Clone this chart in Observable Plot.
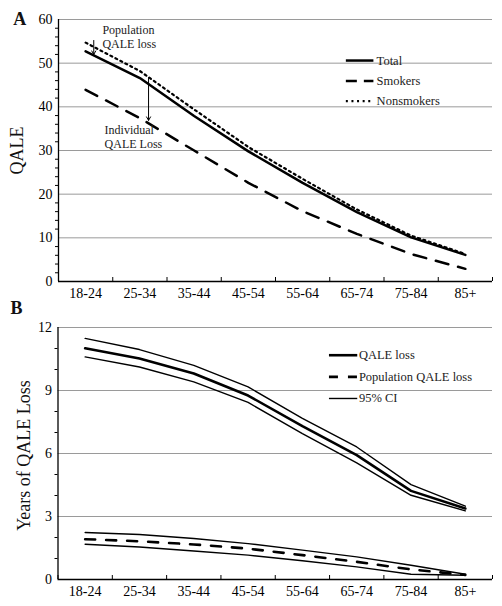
<!DOCTYPE html>
<html><head><meta charset="utf-8">
<script src="https://cdn.jsdelivr.net/npm/d3@7"></script>
<script src="https://cdn.jsdelivr.net/npm/@observablehq/plot@0.6"></script>
<style>body{margin:0;background:#fff;font-family:"Liberation Serif",serif} #chart svg{display:block;overflow:visible}</style>
</head><body><div id="chart"></div>
<script>
// ---- data ----
const ageGroups = ["18-24","25-34","35-44","45-54","55-64","65-74","75-84","85+"];
// Panel A: QALE
const totalQALE      = [52.7, 46.6, 37.9, 29.8, 22.6, 15.9, 10.1, 6.1];
const smokersQALE    = [43.9, 37.4, 30.0, 22.6, 16.1, 10.9, 6.3, 2.9];
const nonsmokersQALE = [54.7, 48.2, 39.4, 30.8, 23.5, 16.5, 10.5, 6.3];
// Panel B: years of QALE loss
const qaleLoss       = [11.01, 10.52, 9.81, 8.76, 7.30, 5.92, 4.22, 3.38];
const qaleLossUpper  = [11.48, 10.95, 10.20, 9.17, 7.67, 6.31, 4.52, 3.49];
const qaleLossLower  = [10.60, 10.12, 9.41, 8.43, 6.95, 5.55, 4.01, 3.27];
const popLoss        = [1.92, 1.82, 1.67, 1.47, 1.16, 0.84, 0.48, 0.22];
const popLossUpper   = [2.24, 2.14, 1.95, 1.71, 1.40, 1.08, 0.68, 0.25];
const popLossLower   = [1.68, 1.55, 1.36, 1.16, 0.89, 0.60, 0.25, 0.20];
const yTicksA = [0, 10, 20, 30, 40, 50, 60];
const yTicksB = [0, 3, 6, 9, 12];
const legendA = ["Total", "Smokers", "Nonsmokers"];
const legendB = ["QALE loss", "Population QALE loss", "95% CI"];

// ---- helpers ----
const idx = d3.range(ageGroups.length);
const series = (vals) => vals.map((v, i) => ({i, v}));
const W = 502;
const font = '"Liberation Serif", "Times New Roman", serif';
const boundaries = d3.range(-0.5, ageGroups.length, 1);
const dotted = "2,3.6";

function baseAxes(yMax, yTicks, minor, labelPad) {
  return [
    Plot.gridY(yTicks.filter(d => d > 0), {stroke: "#9a9a9a", strokeOpacity: 1, strokeWidth: 1}),
    Plot.axisY({ticks: minor, tickSize: 3, tickFormat: () => "", label: null}),
    Plot.axisY({ticks: yTicks, tickSize: 0, tickPadding: 6, fontSize: 14, fontFamily: font, label: null}),
    Plot.axisX({ticks: boundaries, tickSize: -4, tickFormat: () => "", label: null}),
    Plot.axisX({ticks: idx, tickSize: 0, tickPadding: labelPad, fontSize: 14, fontFamily: font, tickFormat: i => ageGroups[i], label: null}),
    Plot.ruleY([0], {stroke: "#000", strokeWidth: 1.3}),
    Plot.ruleX([-0.5], {y1: 0, y2: yMax, stroke: "#000", strokeWidth: 1.3})
  ];
}

// ---- Panel A ----
const legA = {x1: 4.806, x2: 5.314, xt: 5.364, ys: [50.6, 45.9, 41.3]};
const annPop = {x: 0.15, y1: 55.2, y2: 52.0, tx: 0.31, ty: 56.1};
const annInd = {x: 1.16, y1: 46.7, y2: 36.9, tx: 0.35, ty: 33.2};

const plotA = Plot.plot({
  width: W, height: 300,
  marginLeft: 58, marginRight: 10, marginTop: 19, marginBottom: 19,
  style: {fontFamily: font, fontSize: "14px", background: "#fff", color: "#000", overflow: "visible"},
  x: {type: "linear", domain: [-0.5, ageGroups.length - 0.5]},
  y: {domain: [0, 60]},
  marks: [
    ...baseAxes(60, yTicksA, d3.range(0, 61, 2).filter(d => d % 10), 7),
    Plot.line(series(smokersQALE), {x: "i", y: "v", stroke: "#000", strokeWidth: 2.5, strokeDasharray: "13,10"}),
    Plot.line(series(nonsmokersQALE), {x: "i", y: "v", stroke: "#000", strokeWidth: 2.2, strokeDasharray: dotted}),
    Plot.line(series(totalQALE), {x: "i", y: "v", stroke: "#000", strokeWidth: 2.5}),
    // annotations
    Plot.arrow([annPop], {x1: "x", x2: "x", y1: "y1", y2: "y2", stroke: "#000", strokeWidth: 1, headLength: 6}),
    Plot.arrow([annInd], {x1: "x", x2: "x", y1: "y1", y2: "y2", stroke: "#000", strokeWidth: 1, headLength: 6}),
    Plot.text([annPop], {x: "tx", y: "ty", text: () => "Population\nQALE loss", textAnchor: "start", fontSize: 12, lineHeight: 1.17, fill: "#222"}),
    Plot.text([annInd], {x: "tx", y: "ty", text: () => "Individual\nQALE Loss", textAnchor: "start", fontSize: 12, lineHeight: 1.17, fill: "#222"}),
    // legend
    Plot.ruleY([legA.ys[0]], {x1: legA.x1, x2: legA.x2, stroke: "#000", strokeWidth: 2.5}),
    Plot.ruleY([legA.ys[1]], {x1: legA.x1, x2: legA.x2, stroke: "#000", strokeWidth: 2.5, strokeDasharray: "11,7"}),
    Plot.ruleY([legA.ys[2]], {x1: legA.x1, x2: legA.x2, stroke: "#000", strokeWidth: 2.2, strokeDasharray: dotted}),
    Plot.text(legendA, {x: legA.xt, y: (d, i) => legA.ys[i], text: d => d, textAnchor: "start", fontSize: 12.5, fill: "#222"}),
    // titles
    Plot.text(["QALE"], {frameAnchor: "left", dx: -41.5, rotate: -90, textAnchor: "middle", lineAnchor: "middle", fontSize: 18, fill: "#111"}),
    Plot.text(["A"], {frameAnchor: "top-left", dx: -45.3, dy: -0.3, textAnchor: "start", lineAnchor: "middle", fontSize: 18, fontWeight: "bold", fill: "#111"})
  ]
});

// ---- Panel B ----
const legB = {x1: 4.498, x2: 5.019, xt: 5.04, ys: [10.68, 9.65, 8.62]};

const plotB = Plot.plot({
  width: W, height: 306,
  marginLeft: 57.5, marginRight: 10, marginTop: 27, marginBottom: 27,
  style: {fontFamily: font, fontSize: "14px", background: "#fff", color: "#000", overflow: "visible"},
  x: {type: "linear", domain: [-0.5, ageGroups.length - 0.5]},
  y: {domain: [0, 12]},
  marks: [
    ...baseAxes(12, yTicksB, d3.range(0, 13, 1).filter(d => d % 3), 6.5),
    Plot.line(series(qaleLossUpper), {x: "i", y: "v", stroke: "#000", strokeWidth: 1.4}),
    Plot.line(series(qaleLossLower), {x: "i", y: "v", stroke: "#000", strokeWidth: 1.4}),
    Plot.line(series(qaleLoss), {x: "i", y: "v", stroke: "#000", strokeWidth: 2.6}),
    Plot.line(series(popLossUpper), {x: "i", y: "v", stroke: "#000", strokeWidth: 1.4}),
    Plot.line(series(popLossLower), {x: "i", y: "v", stroke: "#000", strokeWidth: 1.4}),
    Plot.line(series(popLoss), {x: "i", y: "v", stroke: "#000", strokeWidth: 2.6, strokeDasharray: "10,11"}),
    // legend
    Plot.ruleY([legB.ys[0]], {x1: legB.x1, x2: legB.x2, stroke: "#000", strokeWidth: 2.6}),
    Plot.ruleY([legB.ys[1]], {x1: legB.x1, x2: legB.x2, stroke: "#000", strokeWidth: 2.6, strokeDasharray: "9,10"}),
    Plot.ruleY([legB.ys[2]], {x1: legB.x1, x2: legB.x2, stroke: "#000", strokeWidth: 1.4}),
    Plot.text(legendB, {x: legB.xt, y: (d, i) => legB.ys[i], text: d => d, textAnchor: "start", fontSize: 12.5, fill: "#222"}),
    // titles
    Plot.text(["Years of QALE Loss"], {frameAnchor: "left", dx: -33.5, dy: 2, rotate: -90, textAnchor: "middle", lineAnchor: "middle", fontSize: 18, fill: "#111"}),
    Plot.text(["B"], {frameAnchor: "top-left", dx: -47.5, dy: -19.2, textAnchor: "start", lineAnchor: "middle", fontSize: 18, fontWeight: "bold", fill: "#111"})
  ]
});

document.getElementById("chart").append(plotA, plotB);
</script>
</body></html>
